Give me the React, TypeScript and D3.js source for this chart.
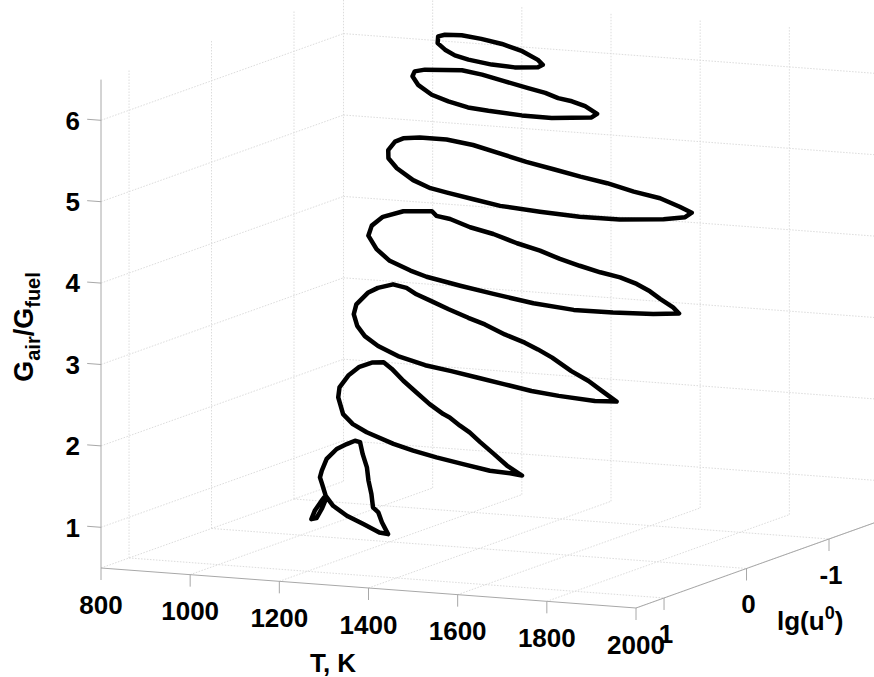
import React from "react";
import * as d3 from "d3";

// Axis domains and ticks
const tDomain = [800, 2000];
const lgDomain = [1.34, -1.6];
const gDomain = [0.5, 6.5];
const tTicks = [800, 1000, 1200, 1400, 1600, 1800, 2000];
const lgTicks = [1, 0, -1];
const gTicks = [1, 2, 3, 4, 5, 6];

// Loops: each at a constant G_air/G_fuel level, traced in (T, lg(u0))
const gLevels = [1, 2, 3, 4, 5, 6, 6.5];

const tG1 = [822, 839, 906, 982, 1054, 1129, 1201, 1237, 1295, 1368, 1343, 1270, 1196, 1119, 1052, 1071, 1111, 1148, 1152, 1111, 1065, 985, 947, 916, 864, 831, 824];
const lgG1 = [-1.62, -1.59, -1.26, -0.9, -0.53, -0.16, 0.21, 0.34, 0.61, 0.93, 0.9, 0.7, 0.5, 0.25, -0.02, 0.13, 0.43, 0.67, 0.63, 0.34, 0.04, -0.34, -0.52, -0.71, -1.05, -1.35, -1.51];

const tG2 = [988, 939, 894, 869, 871, 890, 940, 1023, 1108, 1193, 1270, 1299, 1361, 1414, 1484, 1570, 1655, 1735, 1701, 1650, 1566, 1482, 1404, 1332, 1222, 1154, 1084];
const lgG2 = [-0.52, -0.8, -1.15, -1.42, -1.57, -1.6, -1.43, -1.12, -0.82, -0.52, -0.27, -0.19, 0.02, 0.19, 0.44, 0.74, 1.04, 1.29, 1.25, 1.22, 1.09, 0.96, 0.82, 0.67, 0.4, 0.2, -0.06];

const tG3 = [1008, 962, 923, 916, 926, 969, 1021, 1084, 1158, 1239, 1304, 1393, 1473, 1532, 1601, 1707, 1790, 1866, 1949, 1906, 1812, 1736, 1652, 1568, 1484, 1405, 1307, 1218, 1142, 1075];
const lgG3 = [-0.6, -0.88, -1.23, -1.39, -1.52, -1.45, -1.29, -1.13, -0.94, -0.74, -0.59, -0.35, -0.16, 0.0, 0.2, 0.54, 0.78, 1.03, 1.3, 1.33, 1.26, 1.18, 1.05, 0.92, 0.79, 0.68, 0.48, 0.24, -0.01, -0.28];

const tG4 = [1050, 1004, 979, 988, 1041, 1073, 1115, 1195, 1273, 1365, 1446, 1526, 1598, 1670, 1733, 1798, 1861, 1919, 1987, 2030, 1985, 1902, 1816, 1707, 1584, 1480, 1371, 1309, 1220, 1135];
const lgG4 = [-0.55, -0.84, -1.11, -1.31, -1.37, -1.25, -1.19, -1.0, -0.86, -0.65, -0.49, -0.3, -0.15, -0.01, 0.09, 0.24, 0.42, 0.61, 0.82, 0.98, 1.05, 1.09, 1.1, 1.0, 0.82, 0.66, 0.48, 0.34, 0.11, -0.19];

const tG5 = [1065, 1034, 1032, 1058, 1118, 1196, 1289, 1382, 1471, 1559, 1643, 1736, 1819, 1900, 1953, 1964, 1934, 1854, 1766, 1666, 1562, 1478, 1395, 1341, 1267, 1175, 1108];
const lgG5 = [-0.71, -0.96, -1.07, -1.13, -1.13, -1.03, -0.85, -0.67, -0.52, -0.37, -0.24, -0.06, 0.07, 0.27, 0.41, 0.55, 0.65, 0.75, 0.76, 0.7, 0.62, 0.49, 0.36, 0.27, 0.08, -0.22, -0.48];

const tG6 = [1128, 1138, 1210, 1270, 1347, 1425, 1482, 1533, 1575, 1625, 1687, 1695, 1624, 1555, 1469, 1414, 1346, 1281, 1204, 1149];
const lgG6 = [-0.69, -0.76, -0.82, -0.74, -0.6, -0.46, -0.36, -0.24, -0.18, -0.07, 0.12, 0.23, 0.33, 0.32, 0.26, 0.21, 0.08, -0.07, -0.32, -0.55];

const tG65 = [1201, 1205, 1239, 1294, 1359, 1434, 1508, 1543, 1547, 1504, 1447, 1378, 1331, 1283, 1235];
const lgG65 = [-0.58, -0.64, -0.66, -0.6, -0.5, -0.34, -0.13, 0.0, 0.08, 0.13, 0.1, 0.01, -0.08, -0.22, -0.39];

const loopsT = [tG1, tG2, tG3, tG4, tG5, tG6, tG65];
const loopsLg = [lgG1, lgG2, lgG3, lgG4, lgG5, lgG6, lgG65];

// Projection (MATLAB-like 3D view)
const W = 874, H = 677;
const sT = d3.scaleLinear().domain(tDomain).range([0, 1]);
const sL = d3.scaleLinear().domain(lgDomain).range([0, 1]);
const sG = d3.scaleLinear().domain(gDomain).range([0, 1]);
const O = [101, 568];
const UX = 535, UY = 40; // T direction
const VX = 242.5, VY = -86.7; // lg direction (into depth)
const WY = -488.4; // G direction

function P(T: number, L: number, G: number): [number, number] {
  const u = sT(T), v = sL(L), w = sG(G);
  return [O[0] + UX * u + VX * v, O[1] + UY * u + VY * v + WY * w];
}

const FONT = "'Liberation Sans', Arial, Helvetica, sans-serif";
const gridColor = "#dcdcdc";
const axisColor = "#a8a8a8";

export default function App() {
  const [tMin, tMax] = tDomain;
  const [lMax, lMin] = lgDomain;
  const [gMin, gMax] = gDomain;

  const seg = (a: [number, number], b: [number, number], key: string, stroke: string, dash?: string) => (
    <line key={key} x1={a[0]} y1={a[1]} x2={b[0]} y2={b[1]} stroke={stroke} strokeWidth={1} strokeDasharray={dash} />
  );

  const grid: any[] = [];
  // back wall
  tTicks.forEach((t) => grid.push(seg(P(t, lMin, gMin), P(t, lMin, gMax), `bwt${t}`, gridColor, "1.5,1.5")));
  gTicks.forEach((g) => grid.push(seg(P(tMin, lMin, g), P(tMax, lMin, g), `bwg${g}`, gridColor, "1.5,1.5")));
  // left wall
  lgTicks.forEach((l) => grid.push(seg(P(tMin, l, gMin), P(tMin, l, gMax), `lwl${l}`, gridColor, "1.5,1.5")));
  gTicks.forEach((g) => grid.push(seg(P(tMin, lMax, g), P(tMin, lMin, g), `lwg${g}`, gridColor, "1.5,1.5")));
  // floor
  tTicks.forEach((t) => grid.push(seg(P(t, lMax, gMin), P(t, lMin, gMin), `flt${t}`, gridColor, "1.5,1.5")));
  lgTicks.forEach((l) => grid.push(seg(P(tMin, l, gMin), P(tMax, l, gMin), `fll${l}`, gridColor, "1.5,1.5")));

  const line = d3
    .line<[number, number]>()
    .x((d) => d[0])
    .y((d) => d[1])
    .curve(d3.curveLinearClosed);

  const loops = gLevels.map((g, i) => {
    const pts = loopsT[i].map((t, j) => P(t, loopsLg[i][j], g));
    return (
      <path key={`loop${i}`} d={line(pts) || ""} fill="none" stroke="#000" strokeWidth={4.5} strokeLinejoin="round" />
    );
  });

  const zAx0 = P(tMin, lMax, gMin), zAx1 = P(tMin, lMax, gMax);
  const tAx1 = P(tMax, lMax, gMin);
  const lAx1 = P(tMax, lMin, gMin);

  return (
    <svg width={W} height={H} style={{ position: "absolute", left: 0, top: 0, background: "#fff" }} fontFamily={FONT}>
      <rect x={0} y={0} width={W} height={H} fill="#fff" />
      <g>{grid}</g>
      {/* axes */}
      {seg(zAx0, zAx1, "zax", axisColor)}
      {seg(zAx0, tAx1, "tax", axisColor)}
      {seg(tAx1, lAx1, "lax", axisColor)}
      {/* z ticks */}
      {gTicks.map((g) => {
        const a = P(tMin, lMax, g);
        const b = P(tMin - 31, lMax, g);
        return (
          <g key={`zt${g}`}>
            {seg(a, b, `ztl${g}`, axisColor)}
            <text x={80} y={a[1] + 9.3} textAnchor="end" fontSize={26} fontWeight="bold" fill="#000">
              {g}
            </text>
          </g>
        );
      })}
      {/* T ticks */}
      {tTicks.map((t) => {
        const a = P(t, lMax, gMin);
        return (
          <g key={`tt${t}`}>
            {seg(a, [a[0], a[1] + 12], `ttl${t}`, axisColor)}
            <text x={a[0]} y={a[1] + 45.5} textAnchor="middle" fontSize={26} fontWeight="bold" fill="#000">
              {t}
            </text>
          </g>
        );
      })}
      {/* lg ticks */}
      {lgTicks.map((l) => {
        const a = P(tMax, l, gMin);
        return (
          <g key={`lt${l}`}>
            {seg(a, [a[0], a[1] + 12], `ltl${l}`, axisColor)}
            <text x={a[0] + 2} y={a[1] + 45} textAnchor="middle" fontSize={26} fontWeight="bold" fill="#000">
              {l < 0 ? `-${Math.abs(l)}` : l}
            </text>
          </g>
        );
      })}
      {/* loops */}
      <g>{loops}</g>
      {/* axis titles */}
      <text x={333} y={672} textAnchor="middle" fontSize={26} fontWeight="bold" fill="#000">
        T, K
      </text>
      <text x={777} y={630} fontSize={26} fontWeight="bold" fill="#000">
        <tspan>lg(u</tspan>
        <tspan dy={-11} fontSize={18}>0</tspan>
        <tspan dy={11}>)</tspan>
      </text>
      <text transform="translate(33,327) rotate(-90)" textAnchor="middle" fontSize={27} fontWeight="bold" fill="#000">
        <tspan>G</tspan>
        <tspan dy={7} fontSize={20}>air</tspan>
        <tspan dy={-7}>/G</tspan>
        <tspan dy={7} fontSize={20}>fuel</tspan>
      </text>
    </svg>
  );
}
